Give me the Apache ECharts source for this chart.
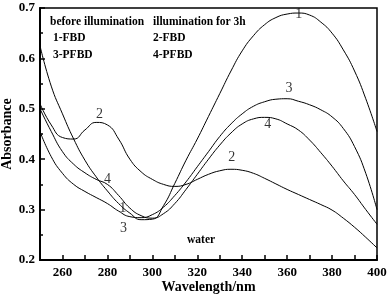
<!DOCTYPE html>
<html>
<head>
<meta charset="utf-8">
<script src="https://cdn.jsdelivr.net/npm/echarts@6/dist/echarts.min.js"></script>
<style>
  html, body { margin: 0; padding: 0; background: #fff; }
  #main { width: 388px; height: 298px; }
</style>
</head>
<body>
<div id="main"></div>
<script>
// wavelength (nm)
var wl = [250, 255, 260, 265, 270, 275, 280, 285, 290, 295, 300, 305, 310, 315, 320, 325,
  330, 335, 340, 345, 350, 355, 360, 365, 370, 375, 380, 385, 390, 395, 400];
// 1-FBD before illumination
var fbdBefore = [0.625, 0.545, 0.49, 0.44, 0.398, 0.365, 0.337, 0.312, 0.293, 0.28, 0.281, 0.308, 0.352, 0.398, 0.44, 0.485,
  0.53, 0.575, 0.615, 0.645, 0.667, 0.681, 0.688, 0.69, 0.686, 0.672, 0.65, 0.617, 0.575, 0.52, 0.455];
// 2-FBD after 3h
var fbdAfter = [0.51, 0.468, 0.443, 0.44, 0.458, 0.473, 0.468, 0.44, 0.4, 0.375, 0.36, 0.35, 0.346, 0.35, 0.36, 0.37,
  0.377, 0.38, 0.378, 0.372, 0.362, 0.351, 0.34, 0.33, 0.32, 0.31, 0.299, 0.283, 0.265, 0.245, 0.224];
// 3-PFBD before illumination
var pfbdBefore = [0.455, 0.405, 0.372, 0.35, 0.336, 0.324, 0.312, 0.297, 0.286, 0.284, 0.29, 0.305, 0.328, 0.355, 0.385, 0.415,
  0.445, 0.47, 0.49, 0.505, 0.514, 0.519, 0.52, 0.515, 0.508, 0.498, 0.484, 0.461, 0.425, 0.372, 0.3];
// 4-PFBD after 3h
var pfbdAfter = [0.5, 0.455, 0.415, 0.39, 0.373, 0.36, 0.35, 0.328, 0.303, 0.288, 0.283, 0.292, 0.312, 0.34, 0.37, 0.4,
  0.428, 0.452, 0.47, 0.48, 0.483, 0.48, 0.47, 0.458, 0.438, 0.413, 0.386, 0.357, 0.33, 0.3, 0.271];

// curve number labels (wavelength, absorbance, text)
var curveLabels = [
  [365.2, 0.687, '1'], [360.8, 0.541, '3'], [351.4, 0.47, '4'], [335.4, 0.404, '2'],
  [276.5, 0.49, '2'], [280.1, 0.361, '4'], [286.8, 0.302, '1'], [287.2, 0.263, '3']
];

var font = 'Liberation Serif';
var noteFont = 'bold 11.5px "Liberation Serif"';

function pairs(vals) {
  return wl.map(function (w, i) { return [w, vals[i]]; });
}

function lineSeries(name, vals) {
  return {
    name: name,
    type: 'line',
    smooth: true,
    showSymbol: false,
    silent: true,
    lineStyle: { color: '#000', width: 1 },
    data: pairs(vals)
  };
}

var chart = echarts.init(document.getElementById('main'));
chart.setOption({
  animation: false,
  backgroundColor: '#fff',
  grid: {
    left: 40, right: 11, top: 8, bottom: 38,
    show: true, borderColor: '#000', borderWidth: 1.5,
    outerBoundsMode: 'none'
  },
  xAxis: {
    type: 'value',
    min: 250, max: 400, interval: 10,
    name: 'Wavelength/nm',
    nameLocation: 'middle',
    nameGap: 20,
    nameMoveOverlap: false,
    nameTextStyle: { fontFamily: font, fontWeight: 'bold', fontSize: 14, color: '#000' },
    axisLine: { lineStyle: { color: '#000', width: 2 } },
    axisTick: { inside: true, length: 5, lineStyle: { color: '#000', width: 1.5 } },
    axisLabel: {
      margin: 6,
      fontFamily: font, fontWeight: 'bold', fontSize: 13, color: '#000',
      formatter: function (v) { return v % 20 === 0 ? String(v) : ''; }
    },
    splitLine: { show: false }
  },
  yAxis: {
    type: 'value',
    min: 0.2, max: 0.7, interval: 0.1,
    name: 'Absorbance',
    nameLocation: 'middle',
    nameGap: 26,
    nameMoveOverlap: false,
    nameTextStyle: { fontFamily: font, fontWeight: 'bold', fontSize: 14, color: '#000' },
    axisLine: { lineStyle: { color: '#000', width: 2 } },
    axisTick: { inside: true, length: 5, lineStyle: { color: '#000', width: 1.5 } },
    minorTick: { show: true, splitNumber: 2, length: 3, lineStyle: { color: '#000', width: 1.5 } },
    axisLabel: {
      margin: 5,
      fontFamily: font, fontWeight: 'bold', fontSize: 13, color: '#000',
      formatter: function (v) { return v.toFixed(1); }
    },
    splitLine: { show: false }
  },
  series: [
    lineSeries('1-FBD', fbdBefore),
    lineSeries('2-FBD', fbdAfter),
    lineSeries('3-PFBD', pfbdBefore),
    lineSeries('4-PFBD', pfbdAfter),
    {
      type: 'scatter',
      symbolSize: 0,
      silent: true,
      data: curveLabels,
      label: {
        show: true,
        position: 'inside',
        fontFamily: font, fontSize: 14, color: '#000',
        formatter: function (p) { return p.value[2]; }
      }
    }
  ],
  graphic: [
    { type: 'text', left: 50, top: 16, style: { text: 'before illumination', font: noteFont, fill: '#000' } },
    { type: 'text', left: 53, top: 32, style: { text: '1-FBD', font: noteFont, fill: '#000' } },
    { type: 'text', left: 53, top: 49, style: { text: '3-PFBD', font: noteFont, fill: '#000' } },
    { type: 'text', left: 153, top: 16, style: { text: 'illumination for 3h', font: noteFont, fill: '#000' } },
    { type: 'text', left: 153, top: 32, style: { text: '2-FBD', font: noteFont, fill: '#000' } },
    { type: 'text', left: 153, top: 49, style: { text: '4-PFBD', font: noteFont, fill: '#000' } },
    { type: 'text', left: 187, top: 234, style: { text: 'water', font: noteFont, fill: '#000' } }
  ]
});
</script>
</body>
</html>
